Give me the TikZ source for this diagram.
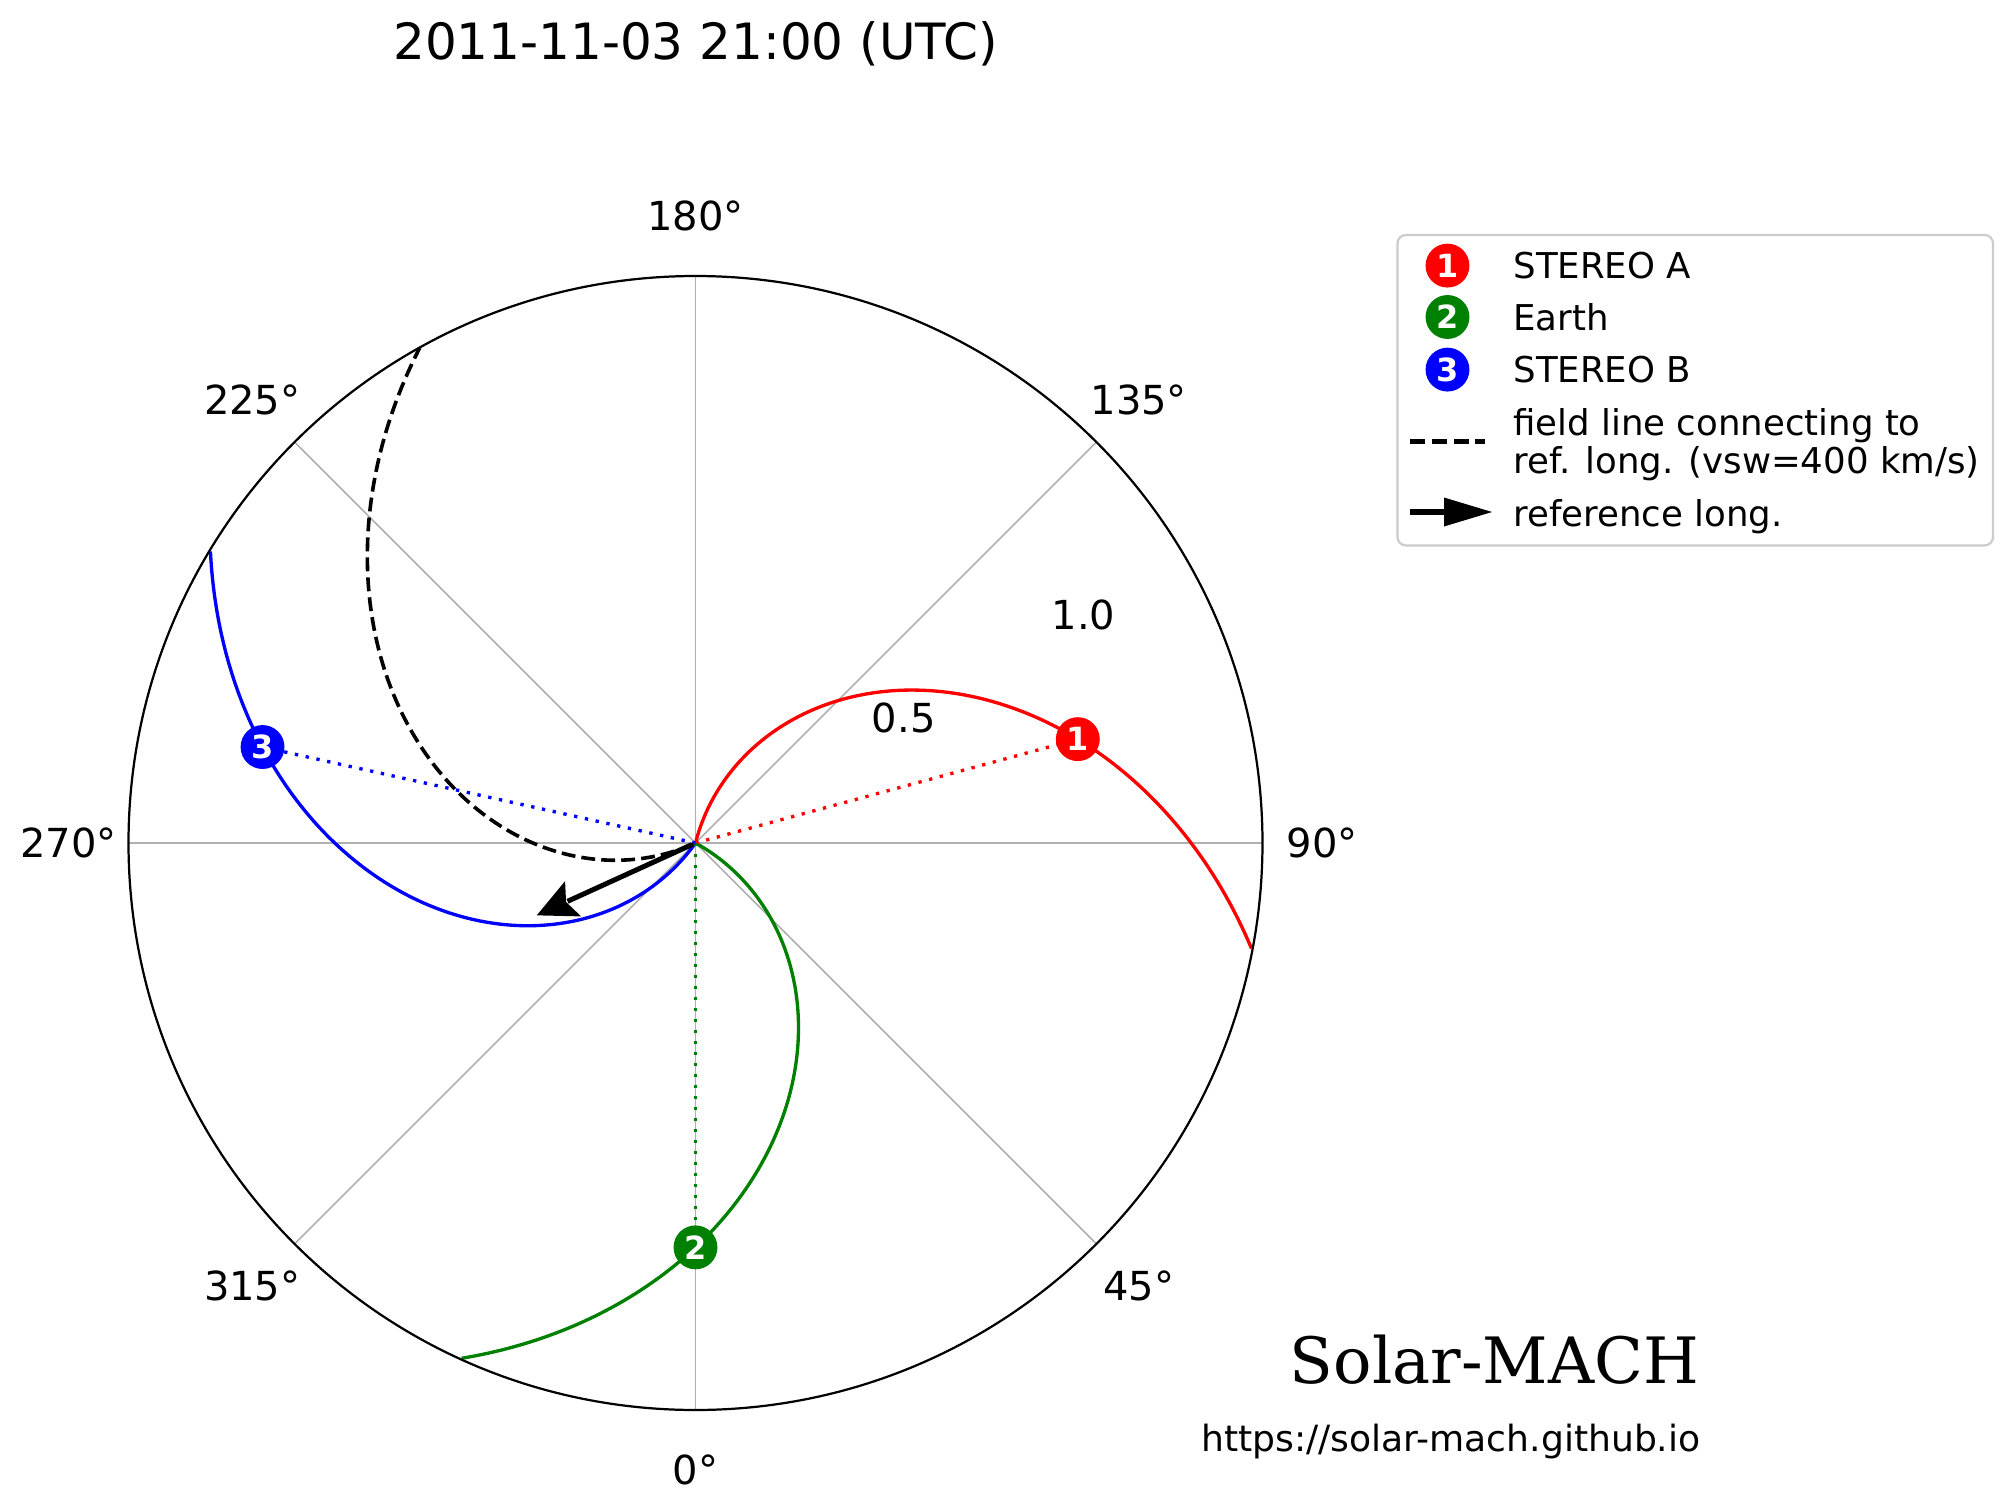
\documentclass[tikz,border=0pt]{standalone}
\usepackage{fontspec}
\setmainfont{DejaVu Sans}
\newfontfamily\brandserif{DejaVu Serif}
\definecolor{gridgray}{HTML}{B0B0B0}
\definecolor{mplgreen}{HTML}{008000}
\definecolor{legedge}{HTML}{CCCCCC}
\begin{document}
\begin{tikzpicture}[x=0.36pt,y=-0.36pt,
  gridline/.style={gridgray, line width=0.55pt},
  rim/.style={black, line width=0.8pt},
  spiral/.style={line width=1.2pt},
  radial/.style={line width=1.2pt, dash pattern=on 1.2pt off 2.76pt},
  fielddash/.style={black, line width=1.3pt, dash pattern=on 5.0pt off 2.2pt},
  marker/.style={circle, inner sep=0pt, minimum size=15.8pt, text=white,
                 font=\fontsize{11.5}{12}\selectfont\bfseries},
  anglabel/.style={inner sep=0pt, font=\fontsize{14.4}{16}\selectfont},
  legtext/.style={inner sep=0pt, anchor=base west, font=\fontsize{12.8}{15}\selectfont}]
\fill[white] (0,0) rectangle (2012,1510);
\useasboundingbox (0,0) rectangle (2012,1510);
\coordinate (O) at (695.5,843);
% title
\node[inner sep=0pt, anchor=base, font=\fontsize{18}{20}\selectfont] (title) at (695.5,59) {2011-11-03 21:00 (UTC)};
\begin{scope}[shift={(O)}, x=146.74pt, y=146.74pt]
  \coordinate (sun) at (0,0);
  % angular grid
  \foreach \a in {0,45,...,315} {\draw[gridline] (sun) -- (\a:1.391);}
  % spirals
  \draw[spiral, red] plot[domain=0.005:1.391, samples=220, variable=\r] ({15.2+62.3*(0.972-\r)}:{\r});
  \draw[spiral, mplgreen] plot[domain=0.005:1.391, samples=220, variable=\r] ({-90+61.6*(0.992-\r)}:{\r});
  \draw[spiral, blue] plot[domain=0.005:1.391, samples=220, variable=\r] ({167.5+61.6*(1.088-\r)}:{\r});
  % body positions
  \coordinate (staP) at (15.2:0.972);
  \coordinate (earthP) at (-90:0.992);
  \coordinate (stbP) at (167.5:1.088);
  \draw[radial, red] (sun) -- (staP);
  \draw[radial, mplgreen] (sun) -- (earthP);
  \draw[radial, blue] (sun) -- (stbP);
  % field line to reference longitude
  \draw[fielddash] plot[domain=0.007:1.391, samples=220, variable=\r] ({204.5-61.4*\r}:{\r});
  % reference arrow
  \begin{scope}[rotate=204.5]
    \coordinate (arrS) at (0.01,0);
    \coordinate (arrN) at (0.345,0);
    \draw[black, line width=1.8pt] (arrS) -- (arrN);
    \fill[black] (0.428,0) -- (0.330,0.0475) -- (0.349,0) -- (0.330,-0.0475) -- cycle;
  \end{scope}
  % rim
  \draw[rim] (sun) circle[radius=1.391];
  % markers
  \node[marker, fill=red] (sta) at (staP) {1};
  \node[marker, fill=mplgreen] (earth) at (earthP) {2};
  \node[marker, fill=blue] (stb) at (stbP) {3};
  % angle labels
  \node[anglabel] (a0) at (-90:1.538) {0°};
  \node[anglabel] (a45) at (-45:1.538) {45°};
  \node[anglabel] (a90) at (0:1.538) {90°};
  \node[anglabel] (a135) at (45:1.538) {135°};
  \node[anglabel] (a180) at (90:1.538) {180°};
  \node[anglabel] (a225) at (135:1.538) {225°};
  \node[anglabel] (a270) at (180:1.538) {270°};
  \node[anglabel] (a315) at (225:1.538) {315°};
\end{scope}
% radial labels
\node[anglabel] (r05) at (903.7,717.7) {0.5};
\node[anglabel] (r10) at (1083.5,615.3) {1.0};
% legend
\draw[legedge, line width=0.8pt, rounded corners=3pt, fill=white] (1397.5,235) rectangle (1993,545.4);
\node[marker, fill=red] (lm1) at (1447.5,265.6) {1};
\node[marker, fill=mplgreen] (lm2) at (1447.5,317) {2};
\node[marker, fill=blue] (lm3) at (1447.5,369.6) {3};
\node[legtext] (lt1) at (1512.9,278.6) {STEREO A};
\node[legtext] (lt2) at (1512.9,330) {Earth};
\node[legtext] (lt3) at (1512.9,382.6) {STEREO B};
\coordinate (ld1) at (1410.2,441.4);
\coordinate (ld2) at (1484.7,441.4);
\draw[fielddash, line width=1.6pt, dash pattern=on 5.4pt off 2.4pt] (ld1) -- (ld2);
\node[legtext] (lt4) at (1512.9,435) {field line connecting to};
\node[legtext] (lt5) at (1512.9,473.5) {ref. long. (vsw=400 km/s)};
\coordinate (la1) at (1410,512);
\coordinate (la2) at (1448,512);
\draw[black, line width=2pt] (la1) -- (la2);
\fill[black] (1492,512) -- (1444,497.5) -- (1444,526.5) -- cycle;
\node[legtext] (lt6) at (1512.9,526) {reference long.};
% branding
\node[inner sep=0pt, anchor=base east, font=\brandserif\fontsize{23}{26}\selectfont] (brand) at (1699.5,1383.3) {Solar-MACH};
\node[inner sep=0pt, anchor=base east, font=\fontsize{13}{15}\selectfont] (url) at (1701,1451.7) {https://solar-mach.github.io};
\end{tikzpicture}
\end{document}
